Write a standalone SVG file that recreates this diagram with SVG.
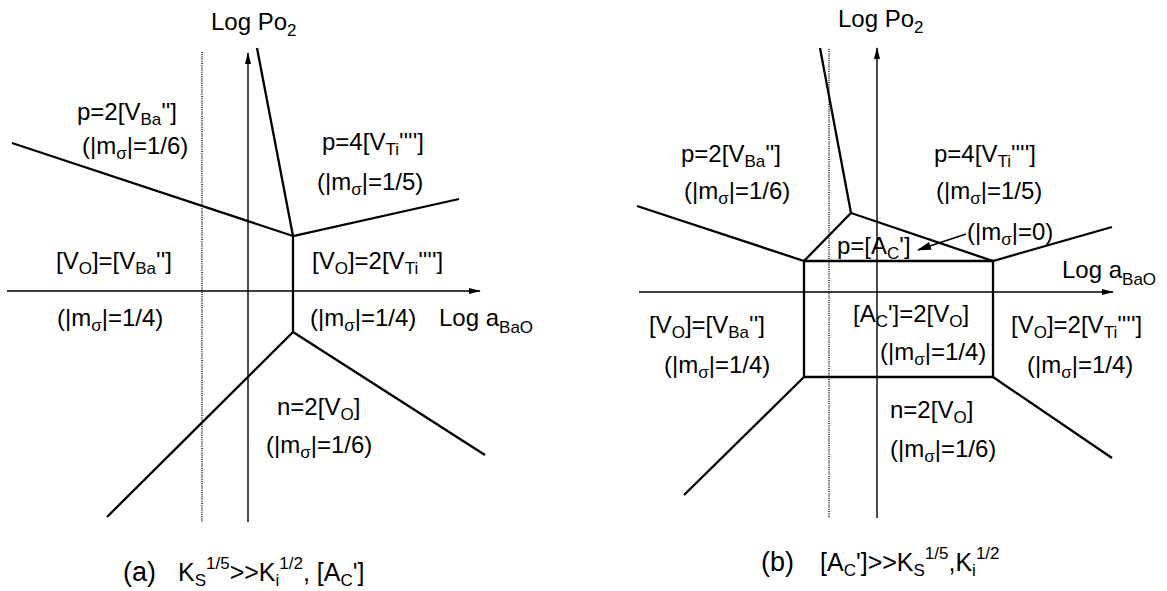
<svg xmlns="http://www.w3.org/2000/svg" width="1167" height="591" viewBox="0 0 1167 591">
<style>
.t{font-family:"Liberation Sans",Arial,sans-serif;font-size:24px;fill:#000}
.s{font-size:17px}
.cap{font-size:27px}
.c{font-size:25px}
.b{stroke:#000;stroke-width:2.3;fill:none;stroke-linejoin:miter}
.ax{stroke:#000;stroke-width:1.4;fill:none}
.dt{stroke:#000;stroke-width:1.4;fill:none;stroke-dasharray:1 1.2}
</style>
<defs>
<marker id="ah" markerUnits="userSpaceOnUse" markerWidth="12" markerHeight="8" refX="11" refY="4" orient="auto">
<path d="M0,1 L12,4 L0,7 z" fill="#000"/>
</marker>
<marker id="ah2" markerUnits="userSpaceOnUse" markerWidth="14" markerHeight="10" refX="13" refY="5" orient="auto">
<path d="M0,1 L14,5 L0,9 z" fill="#000"/>
</marker>
</defs>
<rect width="1167" height="591" fill="#fff"/>

<g id="connectors">
<!-- panel a -->
<line class="ax" x1="7" y1="291" x2="480" y2="291" marker-end="url(#ah)"/>
<line class="ax" x1="248" y1="522" x2="248" y2="53" marker-end="url(#ah)"/>
<line class="dt" x1="202" y1="52" x2="202" y2="522"/>
<polyline class="b" points="257,48 293,236 459,199"/>
<polyline class="b" points="12,143 293,236 293,332 107,517"/>
<line class="b" x1="293" y1="332" x2="485" y2="455"/>
<!-- panel b -->
<line class="ax" x1="639" y1="292" x2="1113" y2="292" marker-end="url(#ah)"/>
<line class="ax" x1="877" y1="518" x2="877" y2="48" marker-end="url(#ah)"/>
<line class="dt" x1="829" y1="49" x2="829" y2="518"/>
<polyline class="b" points="820,48 851,213 993,261 1112,227"/>
<polyline class="b" points="637,206 804,261 851,213"/>
<polygon class="b" points="804,261 993,261 993,377 804,377"/>
<line class="b" x1="804" y1="377" x2="684" y2="495"/>
<line class="b" x1="993" y1="377" x2="1112" y2="458"/>
<line class="ax" x1="966" y1="234" x2="918" y2="250" marker-end="url(#ah2)"/>
</g>

<g id="panel-a-labels">
<g id="a-logpo2"><text class="t" x="211" y="30">Log Po<tspan class="s" dy="6">2</tspan></text></g>
<g id="a-p2vba"><text class="t" x="77" y="120">p=2[V<tspan class="s" dy="5">Ba</tspan><tspan dy="-5">'']</tspan></text>
<text class="t" x="82" y="154">(|m<tspan class="s" dy="5">σ</tspan><tspan dy="-5">|=1/6)</tspan></text></g>
<g id="a-p4vti"><text class="t" x="322" y="150">p=4[V<tspan class="s" dy="5">Ti</tspan><tspan dy="-5">'''']</tspan></text>
<text class="t" x="317" y="190">(|m<tspan class="s" dy="5">σ</tspan><tspan dy="-5">|=1/5)</tspan></text></g>
<g id="a-vovba"><text class="t" x="56" y="269">[V<tspan class="s" dy="5">O</tspan><tspan dy="-5">]=[V</tspan><tspan class="s" dy="5">Ba</tspan><tspan dy="-5">'']</tspan></text>
<text class="t" x="57" y="326">(|m<tspan class="s" dy="5">σ</tspan><tspan dy="-5">|=1/4)</tspan></text></g>
<g id="a-vo2vti"><text class="t" x="312" y="269">[V<tspan class="s" dy="5">O</tspan><tspan dy="-5">]=2[V</tspan><tspan class="s" dy="5">Ti</tspan><tspan dy="-5">'''']</tspan></text>
<text class="t" x="310" y="326">(|m<tspan class="s" dy="5">σ</tspan><tspan dy="-5">|=1/4)</tspan></text></g>
<g id="a-logabao"><text class="t" x="439" y="326">Log a<tspan class="s" dy="7">BaO</tspan></text></g>
<g id="a-n2vo"><text class="t" x="277" y="415">n=2[V<tspan class="s" dy="5">O</tspan><tspan dy="-5">]</tspan></text>
<text class="t" x="266" y="453">(|m<tspan class="s" dy="5">σ</tspan><tspan dy="-5">|=1/6)</tspan></text></g>
<g id="a-caption"><text class="t cap" x="123" y="581">(a)</text>
<text class="t c" x="178" y="581">K<tspan class="s" dy="5">S</tspan><tspan class="s" dy="-17">1/5</tspan><tspan dy="12">&gt;&gt;K</tspan><tspan class="s" dy="5">i</tspan><tspan class="s" dy="-17">1/2</tspan><tspan dy="12">, [A</tspan><tspan class="s" dy="5">C</tspan><tspan dy="-5">']</tspan></text></g>
</g>

<g id="panel-b-labels">
<g id="b-logpo2"><text class="t" x="838" y="27">Log Po<tspan class="s" dy="6">2</tspan></text></g>
<g id="b-p2vba"><text class="t" x="681" y="162">p=2[V<tspan class="s" dy="5">Ba</tspan><tspan dy="-5">'']</tspan></text>
<text class="t" x="684" y="199">(|m<tspan class="s" dy="5">σ</tspan><tspan dy="-5">|=1/6)</tspan></text></g>
<g id="b-p4vti"><text class="t" x="934" y="162">p=4[V<tspan class="s" dy="5">Ti</tspan><tspan dy="-5">'''']</tspan></text>
<text class="t" x="936" y="199">(|m<tspan class="s" dy="5">σ</tspan><tspan dy="-5">|=1/5)</tspan></text></g>
<g id="b-pac"><text class="t" x="837" y="254">p=[A<tspan class="s" dy="5">C</tspan><tspan dy="-5">']</tspan></text></g>
<g id="b-m0"><text class="t" x="967" y="240">(|m<tspan class="s" dy="5">σ</tspan><tspan dy="-5">|=0)</tspan></text></g>
<g id="b-logabao"><text class="t" x="1062" y="278">Log a<tspan class="s" dy="7">BaO</tspan></text></g>
<g id="b-vovba"><text class="t" x="649" y="333">[V<tspan class="s" dy="5">O</tspan><tspan dy="-5">]=[V</tspan><tspan class="s" dy="5">Ba</tspan><tspan dy="-5">'']</tspan></text>
<text class="t" x="664" y="373">(|m<tspan class="s" dy="5">σ</tspan><tspan dy="-5">|=1/4)</tspan></text></g>
<g id="b-ac2vo"><text class="t" x="853" y="322">[A<tspan class="s" dy="5">C</tspan><tspan dy="-5">']=2[V</tspan><tspan class="s" dy="5">O</tspan><tspan dy="-5">]</tspan></text>
<text class="t" x="880" y="360">(|m<tspan class="s" dy="5">σ</tspan><tspan dy="-5">|=1/4)</tspan></text></g>
<g id="b-vo2vti"><text class="t" x="1011" y="333">[V<tspan class="s" dy="5">O</tspan><tspan dy="-5">]=2[V</tspan><tspan class="s" dy="5">Ti</tspan><tspan dy="-5">'''']</tspan></text>
<text class="t" x="1027" y="373">(|m<tspan class="s" dy="5">σ</tspan><tspan dy="-5">|=1/4)</tspan></text></g>
<g id="b-n2vo"><text class="t" x="890" y="418">n=2[V<tspan class="s" dy="5">O</tspan><tspan dy="-5">]</tspan></text>
<text class="t" x="890" y="457">(|m<tspan class="s" dy="5">σ</tspan><tspan dy="-5">|=1/6)</tspan></text></g>
<g id="b-caption"><text class="t cap" x="761" y="571">(b)</text>
<text class="t c" x="820" y="571">[A<tspan class="s" dy="5">C</tspan><tspan dy="-5">']&gt;&gt;K</tspan><tspan class="s" dy="5">S</tspan><tspan class="s" dy="-17">1/5</tspan><tspan dy="12">,K</tspan><tspan class="s" dy="5">i</tspan><tspan class="s" dy="-17">1/2</tspan></text></g>
</g>
</svg>
